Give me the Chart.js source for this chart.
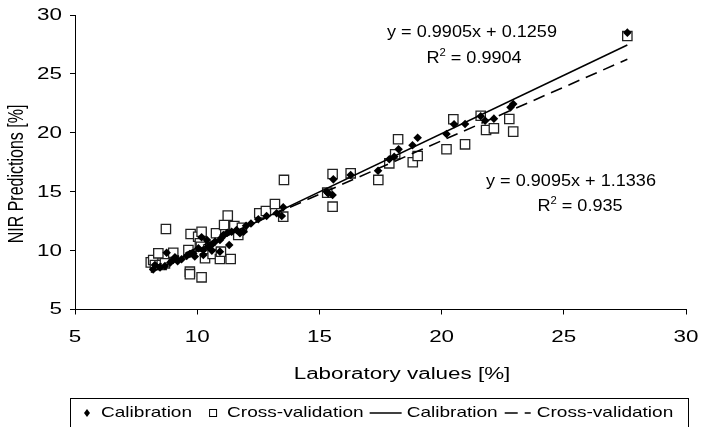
<!DOCTYPE html>
<html><head><meta charset="utf-8">
<script src="https://cdn.jsdelivr.net/npm/chart.js@4"></script>
<style>html,body{margin:0;padding:0;background:#fff;}#wrap{position:relative;width:701px;height:427px;}</style>
</head><body><div id="wrap"><canvas id="c" width="701" height="427"></canvas></div>
<script>
// Calibration points (Laboratory value, NIR prediction)
const calX = [8.2, 8.27, 8.48, 8.68, 8.75, 8.9, 9.02, 9.09, 9.2, 9.36, 9.57, 9.7, 9.84, 9.9, 10.05, 10.18, 10.25, 10.25, 10.4, 10.45, 10.59, 10.6, 10.73, 10.93, 10.93, 11.0, 11.07, 11.23, 11.31, 11.41, 11.61, 11.75, 11.9, 12.0, 12.2, 12.5, 12.84, 13.25, 13.46, 13.52, 15.3, 15.36, 15.54, 15.57, 16.28, 17.4, 17.86, 18.06, 18.24, 18.81, 19.02, 20.2, 20.51, 20.96, 21.6, 21.78, 22.14, 22.82, 22.93, 27.6];
const calY = [8.4, 8.78, 8.58, 8.69, 9.82, 9.0, 9.2, 9.43, 9.1, 9.26, 9.54, 9.71, 9.77, 9.5, 10.2, 11.13, 10.05, 9.63, 10.9, 10.33, 10.48, 10.0, 10.76, 10.9, 9.91, 11.1, 11.32, 11.52, 10.48, 11.6, 11.75, 11.47, 11.6, 12.1, 12.3, 12.66, 12.94, 13.17, 12.94, 13.68, 15.0, 14.86, 14.72, 16.05, 16.42, 16.78, 17.75, 17.97, 18.6, 18.94, 19.58, 19.9, 20.72, 20.75, 21.4, 21.03, 21.2, 22.16, 22.44, 28.5];
// Cross-validation points
const cvX = [8.1, 8.2, 8.27, 8.41, 8.55, 8.68, 8.72, 9.02, 9.64, 9.7, 9.7, 9.73, 10.04, 10.11, 10.15, 10.18, 10.18, 10.32, 10.63, 10.77, 10.93, 10.97, 11.1, 11.25, 11.37, 11.52, 11.68, 11.83, 12.54, 12.81, 13.18, 13.52, 13.55, 15.32, 15.54, 15.54, 16.28, 17.41, 17.86, 18.1, 18.22, 18.82, 19.02, 20.2, 20.48, 20.96, 21.6, 21.82, 22.14, 22.77, 22.93, 27.6];
const cvY = [9.0, 9.2, 8.78, 9.77, 8.78, 8.92, 11.83, 9.82, 10.05, 8.21, 8.0, 11.41, 11.18, 10.62, 10.33, 11.6, 7.73, 9.35, 9.71, 11.47, 9.29, 9.91, 12.17, 12.97, 9.29, 12.09, 11.32, 11.94, 13.17, 13.36, 13.96, 12.88, 16.0, 14.92, 13.73, 16.5, 16.56, 16.0, 17.41, 18.18, 19.45, 17.5, 18.03, 18.6, 21.15, 19.02, 21.45, 20.24, 20.38, 21.17, 20.1, 28.22];
// Regression line end points
const calFitX = [8.1, 27.6];
const calFitY = [8.15, 27.46];
const cvFitX = [8.1, 27.6];
const cvFitY = [8.5, 26.24];
const axisTicks = [5, 10, 15, 20, 25, 30];
const xTitle = "Laboratory values [%]";
const yTitle = "NIR Predictions [%]";
const eqCal = ["y = 0.9905x + 0.1259", "0.9904"];
const eqCv = ["y = 0.9095x + 1.1336", "0.935"];
const legendItems = ["Calibration", "Cross-validation", "Calibration", "Cross-validation"];

const FONT = "'Liberation Sans', Arial, Helvetica, sans-serif";
const pts = (xs, ys) => xs.map((x, i) => ({x: x, y: ys[i]}));

// draw horizontally stretched text; returns drawn width
function txt(ctx, s, x, y, size, sx, align) {
  ctx.save();
  ctx.font = size + 'px ' + FONT;
  const w = ctx.measureText(s).width * sx;
  let x0 = x;
  if (align === 'center') x0 = x - w / 2;
  else if (align === 'right') x0 = x - w;
  ctx.translate(x0, y);
  ctx.scale(sx, 1);
  ctx.textAlign = 'left';
  ctx.textBaseline = 'middle';
  ctx.fillText(s, 0, 0);
  ctx.restore();
  return w;
}
function twidth(ctx, s, size, sx) {
  ctx.save(); ctx.font = size + 'px ' + FONT;
  const w = ctx.measureText(s).width * sx; ctx.restore(); return w;
}

const extras = {
  id: 'extras',
  afterDraw(chart) {
    const ctx = chart.ctx;
    const xs = chart.scales.x, ys = chart.scales.y;
    ctx.save();
    ctx.fillStyle = '#000';
    ctx.strokeStyle = '#000';
    // tick labels
    axisTicks.forEach(v => {
      txt(ctx, String(v), 62, ys.getPixelForValue(v) + 0.5, 16, 1.4, 'right');
      txt(ctx, String(v), xs.getPixelForValue(v), 338, 16, 1.4, 'center');
    });
    // axis titles
    txt(ctx, xTitle, 402, 375, 16, 1.4, 'center');
    ctx.save();
    ctx.translate(17, 174);
    ctx.rotate(-Math.PI / 2);
    ctx.scale(1, 1.35);
    ctx.font = '16px ' + FONT;
    ctx.textAlign = 'center'; ctx.textBaseline = 'middle';
    ctx.fillText(yTitle, 0, 0);
    ctx.restore();

    // equations
    const SX = 1.13;
    const drawR2 = (cx, cy, val) => {
      const rest = ' = ' + val;
      const wR = twidth(ctx, 'R', 16, SX), w2 = twidth(ctx, '2', 10, SX), wRest = twidth(ctx, rest, 16, SX);
      let x = cx - (wR + w2 + wRest) / 2;
      txt(ctx, 'R', x, cy, 16, SX, 'left');
      txt(ctx, '2', x + wR, cy - 6, 10, SX, 'left');
      txt(ctx, rest, x + wR + w2, cy, 16, SX, 'left');
    };
    txt(ctx, eqCal[0], 472, 33, 16, SX, 'center');
    drawR2(474, 59, eqCal[1]);
    txt(ctx, eqCv[0], 571, 182, 16, SX, 'center');
    drawR2(580, 207, eqCv[1]);

    // legend
    ctx.lineWidth = 1;
    ctx.strokeRect(70.5, 398.5, 618, 40);
    const ly = 413, LS = 15, LX = 1.27;
    let x = 87;
    ctx.beginPath();
    ctx.moveTo(x, ly - 4); ctx.lineTo(x + 3, ly); ctx.lineTo(x, ly + 4); ctx.lineTo(x - 3, ly); ctx.closePath(); ctx.fill();
    x += 14;
    x += txt(ctx, legendItems[0], x, ly, LS, LX, 'left') + 21;
    ctx.strokeRect(x - 3.5, ly - 3.5, 7, 7);
    x += 14;
    x += txt(ctx, legendItems[1], x, ly, LS, LX, 'left') + 6;
    ctx.lineWidth = 1.5;
    ctx.beginPath(); ctx.moveTo(x, ly); ctx.lineTo(x + 32, ly); ctx.stroke();
    x += 37;
    x += txt(ctx, legendItems[2], x, ly, LS, LX, 'left') + 7;
    ctx.beginPath(); ctx.moveTo(x, ly); ctx.lineTo(x + 13, ly); ctx.moveTo(x + 20, ly); ctx.lineTo(x + 26, ly); ctx.stroke();
    x += 32;
    txt(ctx, legendItems[3], x, ly, LS, LX, 'left');
    ctx.restore();
  }
};

const scaleBase = (isX) => ({
  type: 'linear',
  min: 5, max: 30,
  afterBuildTicks: (s) => { s.ticks = axisTicks.map(v => ({value: v})); },
  ticks: { display: false },
  grid: { display: true, drawOnChartArea: false, drawTicks: true, tickLength: 5, color: '#000', lineWidth: 1 },
  border: { display: true, color: '#000', width: 1 },
  title: { display: false },
  afterFit: (s) => { if (isX) s.height = 117.5; else s.width = 75; }
});

new Chart(document.getElementById('c'), {
  type: 'scatter',
  data: {
    datasets: [
      { label: 'Calibration', data: pts(calX, calY), pointStyle: 'rectRot', pointRadius: 4.3,
        backgroundColor: '#000', borderColor: '#000', borderWidth: 0, order: 1 },
      { label: 'Cross-validation', data: pts(cvX, cvY), pointStyle: 'rect', pointRadius: 6.6,
        backgroundColor: '#fff', borderColor: '#222', borderWidth: 1.3, order: 2 },
      { label: 'Calibration fit', data: pts(calFitX, calFitY), showLine: true, pointRadius: 0,
        borderColor: '#000', borderWidth: 1.6, fill: false, order: 0 },
      { label: 'Cross-validation fit', data: pts(cvFitX, cvFitY), showLine: true, pointRadius: 0,
        borderColor: '#000', borderWidth: 1.6, borderDash: [12, 7], fill: false, order: 0 }
    ]
  },
  options: {
    responsive: false, animation: false,
    layout: { padding: { top: 15, right: 15, left: 0, bottom: 0 } },
    plugins: { legend: { display: false }, tooltip: { enabled: false } },
    scales: { x: scaleBase(true), y: scaleBase(false) }
  },
  plugins: [extras]
});
</script></body></html>
